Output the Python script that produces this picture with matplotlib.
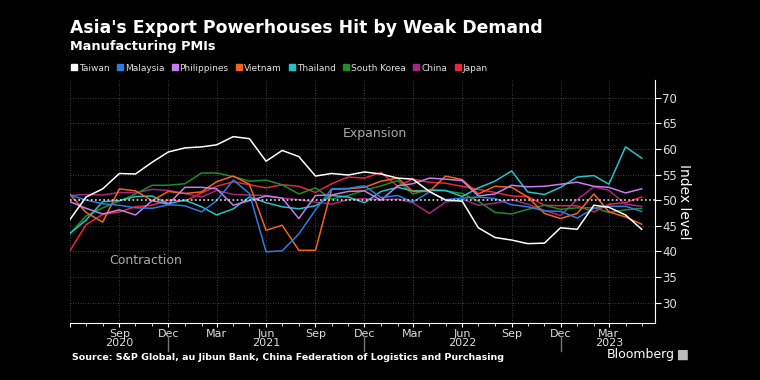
import matplotlib
matplotlib.use("Agg")
import matplotlib.pyplot as plt
import matplotlib.dates as mdates
from matplotlib.lines import Line2D
from matplotlib.patches import FancyBboxPatch
import matplotlib.transforms as mtransforms
import pandas as pd

# monthly manufacturing PMIs, Jun 2020 - May 2023
months = pd.date_range("2020-06-01", periods=36, freq="MS")

taiwan = [46.2, 50.6, 52.2, 55.2, 55.1, 57.4, 59.4, 60.2, 60.4, 60.8, 62.4, 62.0,
          57.6, 59.7, 58.5, 54.7, 55.2, 54.9, 55.5, 55.1, 54.3, 54.1, 51.7, 50.0,
          49.8, 44.6, 42.7, 42.2, 41.5, 41.6, 44.6, 44.3, 49.0, 48.6, 47.1, 44.3]
malaysia = [51.0, 50.0, 49.3, 49.0, 48.5, 48.4, 49.1, 48.9, 47.7, 49.9, 53.9, 51.3,
            39.9, 40.1, 43.4, 48.1, 52.2, 52.3, 52.8, 50.5, 50.9, 49.6, 51.6, 50.1,
            50.4, 50.6, 50.3, 49.1, 48.7, 47.9, 47.8, 46.5, 48.4, 48.8, 48.8, 47.8]
philippines = [49.7, 48.4, 47.3, 48.1, 47.1, 49.9, 49.2, 52.5, 52.5, 52.2, 49.0, 49.9,
               50.8, 50.4, 46.4, 50.9, 51.0, 51.7, 51.8, 50.0, 52.8, 53.2, 54.3, 54.1,
               53.8, 50.8, 51.2, 52.9, 52.6, 52.7, 53.1, 53.5, 52.7, 52.5, 51.4, 52.2]
vietnam = [51.1, 47.6, 45.7, 52.2, 51.8, 49.9, 51.7, 51.3, 51.6, 53.6, 54.7, 53.1,
           44.1, 45.1, 40.2, 40.2, 52.1, 52.2, 52.5, 53.7, 54.3, 51.7, 51.7, 54.7,
           54.0, 51.2, 52.7, 52.5, 50.6, 47.4, 46.4, 47.4, 51.2, 47.7, 46.7, 45.3]
thailand = [43.5, 46.1, 49.7, 49.9, 50.7, 50.8, 49.3, 50.0, 48.7, 47.1, 48.3, 50.6,
            49.5, 48.7, 48.3, 48.9, 50.9, 50.6, 49.5, 51.7, 52.5, 51.8, 51.9, 51.9,
            50.7, 52.4, 53.7, 55.7, 51.6, 51.1, 52.5, 54.5, 54.8, 53.1, 60.4, 58.2]
south_korea = [43.4, 46.9, 48.5, 49.8, 51.2, 52.9, 52.9, 53.2, 55.3, 55.3, 54.6, 53.7,
               53.9, 53.0, 51.2, 52.4, 50.2, 50.9, 51.9, 52.8, 53.8, 51.2, 52.1, 51.8,
               51.3, 49.8, 47.6, 47.3, 48.2, 49.0, 48.2, 48.5, 48.5, 47.6, 48.1, 48.4]
china = [50.9, 51.1, 51.0, 51.5, 51.4, 52.1, 51.9, 51.3, 50.6, 51.9, 51.1, 51.0,
         50.9, 50.4, 50.1, 49.6, 49.2, 50.1, 50.3, 50.1, 50.2, 49.5, 47.4, 49.6,
         50.2, 49.0, 49.4, 50.1, 49.2, 48.0, 47.0, 50.1, 52.6, 51.9, 49.2, 48.8]
japan = [40.1, 45.2, 47.2, 47.7, 48.7, 49.0, 50.0, 49.8, 51.4, 52.7, 53.6, 53.0,
         52.4, 53.0, 52.7, 51.5, 53.2, 54.5, 54.3, 55.4, 52.7, 54.1, 53.5, 53.3,
         52.7, 52.1, 51.5, 50.8, 50.7, 49.0, 48.9, 48.9, 47.7, 49.2, 49.5, 50.6]

names = ["Taiwan", "Malaysia", "Philippines", "Vietnam", "Thailand",
         "South Korea", "China", "Japan"]
series = [taiwan, malaysia, philippines, vietnam, thailand, south_korea, china, japan]
colors = ["#ffffff", "#2b7de0", "#c67cf2", "#f0641e", "#22c4c8",
          "#1e8c2a", "#a3287e", "#e8263e"]

fig = plt.figure(figsize=(7.6, 3.8), dpi=100, facecolor="black")
ax = fig.add_axes([0.092, 0.15, 0.77, 0.64], facecolor="black")

# grid and 50 line
for y in range(30, 75, 5):
    if y != 50:
        ax.axhline(y, color="#555555", lw=0.6, ls=(0, (1, 2)), zorder=0)
grid_months = pd.date_range("2020-06-01", "2023-03-01", freq="3MS")
for m in grid_months:
    ax.axvline(m, color="#555555", lw=0.6, ls=(0, (1, 2)), zorder=0)

order = [7, 6, 5, 4, 3, 2, 1, 0]
for i in order:
    ax.plot(months, series[i], color=colors[i], lw=1.1, zorder=3)
ax.axhline(50, color="#dddddd", lw=1.2, ls=(0, (1, 1.5)), zorder=4)

ax.set_ylim(26, 73.5)
ax.set_xlim(pd.Timestamp("2020-06-01"), pd.Timestamp("2023-05-26"))

ax.yaxis.tick_right()
ax.yaxis.set_label_position("right")
ax.set_yticks(range(30, 75, 5))
ax.set_ylabel("Index level", color="white", fontsize=10, rotation=270, labelpad=10)
ax.tick_params(axis="y", colors="white", labelcolor="#dddddd", labelsize=8.5,
               length=4, width=0.8, pad=1)

ax.xaxis.set_major_locator(mdates.MonthLocator(bymonth=[3, 6, 9, 12]))
ax.xaxis.set_minor_locator(mdates.MonthLocator())
ax.xaxis.set_major_formatter(mdates.DateFormatter("%b"))
ax.tick_params(axis="x", which="major", colors="white", labelcolor="#dddddd",
               labelsize=8, length=3, width=0.8, pad=1)
ax.tick_params(axis="x", which="minor", colors="white", length=2, width=0.6)
ax.xaxis.get_major_ticks()[0].label1.set_visible(False)

for side in ["top", "left"]:
    ax.spines[side].set_visible(False)
for side in ["bottom", "right"]:
    ax.spines[side].set_color("white")
    ax.spines[side].set_linewidth(0.8)

# year labels and separators under the axis
trans = mtransforms.blended_transform_factory(ax.transData, ax.transAxes)
for label, pos in [("2020", "2020-09-01"), ("2021", "2021-06-01"),
                   ("2022", "2022-06-01"), ("2023", "2023-03-01")]:
    ax.text(pd.Timestamp(pos), -0.083, label, transform=trans, ha="center",
            va="center", color="#dddddd", fontsize=8)
for pos in ["2020-12-01", "2021-12-01", "2022-12-01"]:
    x = mdates.date2num(pd.Timestamp(pos))
    ax.add_line(Line2D([x, x], [-0.055, -0.115], transform=trans, snap=True,
                       color="#777777", lw=1.0, clip_on=False, zorder=10))

ax.text(pd.Timestamp("2021-12-20"), 63.0, "Expansion", color="#aaaaaa",
        fontsize=9, ha="center", va="center")
ax.text(pd.Timestamp("2020-10-20"), 38.2, "Contraction", color="#aaaaaa",
        fontsize=9, ha="center", va="center")

# titles
fig.text(0.092, 0.926, "Asia's Export Powerhouses Hit by Weak Demand", color="white",
         fontsize=12.4, fontweight="bold", ha="left", va="center")
fig.text(0.092, 0.878, "Manufacturing PMIs", color="white",
         fontsize=9.3, fontweight="bold", ha="left", va="center")

handles = [Line2D([], [], marker="s", ls="none", color=c, markersize=5) for c in colors]
fig.legend(handles, names, loc="center left", bbox_to_anchor=(0.094, 0.821),
           ncol=8, frameon=False, fontsize=6.5, labelcolor="#e0e0e0",
           handlelength=0.5, handletextpad=0.3, columnspacing=0.9, borderaxespad=0,
           borderpad=0)

fig.text(0.095, 0.06, "Source: S&P Global, au Jibun Bank, China Federation of Logistics and Purchasing",
         color="white", fontsize=6.8, fontweight="bold", ha="left", va="center")
fig.text(0.888, 0.066, "Bloomberg", color="white", fontsize=9, ha="right", va="center")
fig.patches.append(FancyBboxPatch((0.893, 0.053), 0.011, 0.025, transform=fig.transFigure,
                                  boxstyle="round,pad=0.001", facecolor="#bbbbbb",
                                  edgecolor="none"))

fig.savefig("out.png", dpi=100, facecolor="black")
